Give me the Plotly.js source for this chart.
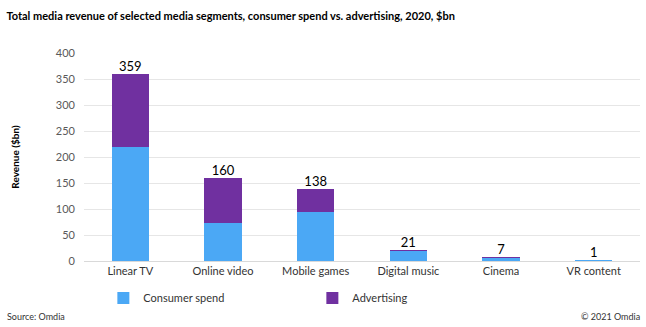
<!DOCTYPE html>
<html>
<head>
<meta charset="utf-8">
<script src="https://cdn.plot.ly/plotly-3.0.1.min.js"></script>
<style>html,body{margin:0;padding:0;background:#fff;}#chart{width:646px;height:327px;}</style>
</head>
<body>
<div id="chart"></div>
<script>
const categories = ["Linear TV", "Online video", "Mobile games", "Digital music", "Cinema", "VR content"];
const consumerSpend = [219, 74, 94, 19, 6, 1];
const advertising = [140, 86, 44, 2, 1, 0];
const totalLabels = ["359", "160", "138", "21", "7", "1"];
const totals = consumerSpend.map((v, i) => v + advertising[i]);

const FONT = "Lato, 'Open Sans', sans-serif";

const data = [
  {type: "bar", name: "Consumer spend", x: categories, y: consumerSpend, marker: {color: "#4BA8F5"}, hoverinfo: "skip"},
  {type: "bar", name: "Advertising", x: categories, y: advertising, marker: {color: "#7030A0"}, hoverinfo: "skip"},
  {type: "scatter", mode: "text", x: categories, y: totals, text: totalLabels, textposition: "top center",
   textfont: {family: FONT, size: 13, color: "#000"}, showlegend: false, hoverinfo: "skip", cliponaxis: false}
];

const layout = {
  width: 646, height: 327,
  margin: {l: 84, r: 6, t: 53, b: 66},
  paper_bgcolor: "#fff", plot_bgcolor: "#fff",
  barmode: "stack", bargap: 0.6,
  font: {family: FONT, size: 11, color: "#595959"},
  title: {text: "<b>Total media revenue of selected media segments, consumer spend vs. advertising, 2020, $bn</b>",
          font: {family: FONT, size: 11, color: "#000"}, x: 0.01, xanchor: "left", y: 0.95, yanchor: "middle", xref: "container", yref: "container"},
  xaxis: {type: "category", showgrid: false, showline: true, linecolor: "#d9d9d9", ticks: "",
          tickfont: {family: FONT, size: 11, color: "#333"}, fixedrange: true},
  yaxis: {range: [0, 400], dtick: 50, showgrid: true, gridcolor: "#e6e6e6", zeroline: false, showline: false, ticks: "",
          tickfont: {family: FONT, size: 11, color: "#595959"}, ticklabelstandoff: 8,
          title: {text: "<b>Revenue ($bn)</b>", font: {family: FONT, size: 10, color: "#000"}, standoff: 34}, fixedrange: true},
  legend: {orientation: "h", traceorder: "normal", xref: "container", yref: "container", x: 0.16, xanchor: "left", y: 0.089, yanchor: "middle",
           entrywidth: 164, entrywidthmode: "pixels", font: {family: FONT, size: 11, color: "#333"}, itemwidth: 30, bgcolor: "rgba(0,0,0,0)"},
  annotations: [
    {text: "Source: Omdia", xref: "paper", yref: "paper", x: -0.142, y: -0.269, xanchor: "left", yanchor: "middle", showarrow: false,
     font: {family: FONT, size: 9, color: "#333"}},
    {text: "© 2021 Omdia", xref: "paper", yref: "paper", x: 1.004, y: -0.269, xanchor: "right", yanchor: "middle", showarrow: false,
     font: {family: FONT, size: 9, color: "#333"}}
  ],
  showlegend: true
};

Plotly.newPlot("chart", data, layout, {displayModeBar: false, staticPlot: true});
</script>
</body>
</html>
